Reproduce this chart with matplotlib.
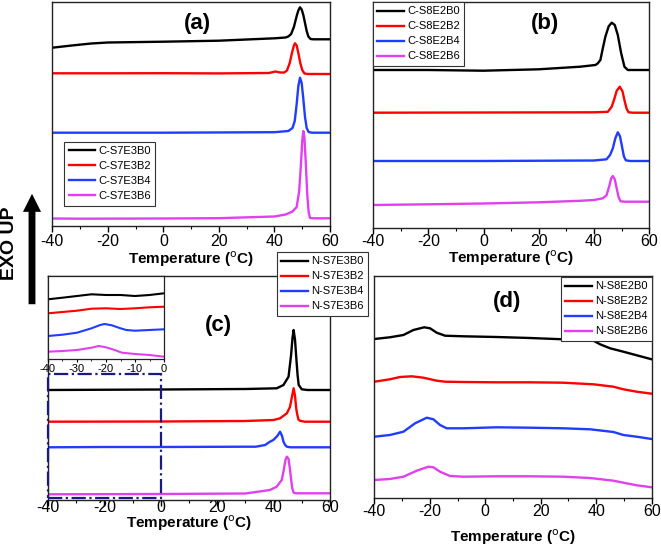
import matplotlib
matplotlib.use("Agg")
import matplotlib.pyplot as plt
from matplotlib.ticker import MultipleLocator
from matplotlib.patches import Rectangle, FancyArrowPatch

plt.rcParams['font.family'] = ['Liberation Sans', 'DejaVu Sans']
plt.rcParams['axes.unicode_minus'] = False

colors = ['black', '#ff0000', '#1f3cff', '#e040ee']

# (a) C-S7E3B* curves, heat flow in arbitrary units (offset stacked)
a_labels = ['C-S7E3B0', 'C-S7E3B2', 'C-S7E3B4', 'C-S7E3B6']
a_b0_t = [-40, -33, -26, -20, 0, 20, 40, 44, 45, 46, 47, 48, 48.6, 49.2, 49.8, 50.4, 51, 51.6, 52.2, 53, 54, 60]
a_b0_y = [178.3, 180.5, 182.5, 183.5, 184.3, 185.3, 187.7, 188.5, 189.5, 192, 199, 210, 215.5, 218.7, 216.5, 211, 203, 195, 189.5, 187, 186.7, 186.7]
a_b2_t = [-40, -20, 0, 20, 38, 40.4, 42, 43.5, 44.5, 45.5, 46.3, 47, 47.4, 48, 48.6, 49.3, 50, 50.8, 52, 60]
a_b2_y = [152.7, 152.7, 152.8, 152.6, 153, 154.5, 153.5, 153.5, 155.5, 163, 173, 180.5, 182.7, 180.5, 173, 163, 156, 152.5, 152, 152]
a_b4_t = [-40, 0, 40, 45, 46.5, 47.3, 48, 48.6, 49.2, 49.8, 50.4, 51, 51.6, 52.3, 53.5, 60]
a_b4_y = [93.3, 93.3, 93.8, 95, 98, 105, 122, 140, 148.3, 143, 127, 109, 98, 94, 93.3, 93.3]
a_b6_t = [-40, -30, 0, 20, 40, 44, 46.5, 48, 48.9, 49.5, 50, 50.4, 50.8, 51.3, 51.8, 52.3, 52.8, 54, 60]
a_b6_y = [7.5, 7.3, 7.5, 7.8, 9.5, 11.5, 14.5, 19, 35, 60, 85, 95, 88, 62, 32, 14, 8, 7.7, 7.7]

# (b) C-S8E2B*
b_labels = ['C-S8E2B0', 'C-S8E2B2', 'C-S8E2B4', 'C-S8E2B6']
b_b0_t = [-40, -20, 0, 20, 35, 40.5, 41.3, 42.3, 43.2, 44.1, 45.3, 46.4, 47.5, 48.6, 49.8, 51, 52.2, 60]
b_b0_y = [158.3, 158.3, 157.6, 159, 161.6, 163.3, 164.8, 168.3, 180.3, 191.6, 202, 205.6, 203.3, 193.3, 175.3, 161.6, 158.3, 158.3]
b_b2_t = [-40, 0, 40, 45, 46.4, 47.3, 48.2, 49.3, 50.3, 51.1, 51.8, 52.5, 54, 60]
b_b2_y = [115.6, 115.8, 116, 116.5, 121.6, 129, 137.5, 141.6, 137, 127, 119.5, 116, 115.6, 115.6]
b_b4_t = [-40, 0, 40, 44.5, 45.8, 46.8, 47.7, 48.6, 49.4, 50.1, 50.8, 51.5, 53, 60]
b_b4_y = [67.3, 67.3, 67.8, 69, 73.3, 80, 90, 96, 92, 82, 72, 68, 67.3, 67.3]
b_b6_t = [-40, -20, 0, 20, 35, 40, 43.2, 44.5, 45.5, 46.2, 46.8, 47.5, 48.2, 48.9, 49.6, 51, 60]
b_b6_y = [23.3, 24, 24.8, 26, 27.5, 28.3, 30, 33, 42, 50, 52.3, 49, 40, 31, 27, 26.6, 26.6]

# (c) N-S7E3B*
c_labels = ['N-S7E3B0', 'N-S7E3B2', 'N-S7E3B4', 'N-S7E3B6']
c_b0_t = [-40, 0, 30, 41.1, 43.5, 45.3, 46.2, 46.7, 47.1, 47.6, 48.1, 48.5, 48.9, 50, 52, 60]
c_b0_y = [110, 110.5, 111, 111.7, 115, 123.3, 145, 162, 170, 160, 140, 125, 115, 110.7, 110, 110]
c_b2_t = [-40, 0, 30, 40, 42.3, 44.7, 45.8, 46.5, 47.1, 47.6, 48, 48.3, 48.8, 49.3, 51, 60]
c_b2_y = [78.3, 78.5, 79, 80, 81.7, 86.7, 93, 103, 111.7, 104, 92, 86.7, 80.5, 79.3, 78.3, 78.3]
c_b4_t = [-40, -20, 0, 30, 33.7, 37, 38.7, 39.9, 41.3, 42.3, 43, 43.5, 44.1, 44.7, 46, 60]
c_b4_y = [52.7, 53, 53, 53.3, 53.3, 55, 58.3, 60, 64, 68.3, 64, 58.3, 55, 53.3, 52.7, 52.7]
c_b6_t = [-40, 0, 30, 38.7, 41.1, 42.9, 43.6, 44.2, 44.7, 45.3, 45.8, 46.1, 46.6, 47.1, 48, 60]
c_b6_y = [5.7, 6, 6.5, 10, 13.3, 20, 30, 40, 43.3, 41, 31, 23.3, 12, 7.3, 6.7, 6.7]

# (c) inset, -40 to 0 magnified
ins_b0_t = [-40, -35, -30, -25, -20, -15, -10, -5, 0]
ins_b0_y = [60, 61.6, 63.3, 65, 64.3, 64.3, 63.3, 64.3, 66]
ins_b2_t = [-40, -35, -30, -25, -20, -15, -10, -5, 0]
ins_b2_y = [46, 47.3, 48.6, 50.6, 51, 50.3, 51, 52, 52.6]
ins_b4_t = [-40, -35, -30, -25, -22, -20.5, -18, -15, -13, -10, -5, 0]
ins_b4_y = [23.3, 24.6, 26.6, 31, 34.3, 35.3, 34, 31, 29.3, 28.6, 29.3, 30]
ins_b6_t = [-40, -35, -30, -25, -22.5, -20, -17, -14.5, -10, -5, 0]
ins_b6_y = [7.6, 8.3, 9.3, 11.6, 13.3, 12, 9.3, 6.6, 5.3, 4.3, 2.6]

# (d) N-S8E2B*
d_labels = ['N-S8E2B0', 'N-S8E2B2', 'N-S8E2B4', 'N-S8E2B6']
d_b0_t = [-40, -34.4, -29.5, -25.9, -22, -19.9, -17.5, -14.5, -7.9, 4.1, 16.1, 28.1, 33, 37.2, 39, 41.4, 45, 49.8, 54.6, 60]
d_b0_y = [159.3, 161, 163.3, 168.3, 171, 170, 165.6, 162.6, 162, 161.3, 160.3, 159, 158.3, 159, 157.6, 154, 150, 146.6, 143, 139]
d_b2_t = [-40, -34.4, -30.7, -26.5, -22.3, -17.5, -14.5, -7.9, 4.1, 16.1, 28.1, 39, 46.2, 49.8, 54.6, 60]
d_b2_y = [116.6, 119, 121.3, 122, 120.6, 117.6, 116.6, 116.3, 116, 116, 115.6, 114, 111.6, 109, 106.6, 104.6]
d_b4_t = [-40, -34.4, -29.5, -25.3, -21.1, -18.7, -16.3, -13.9, -7.9, 4.1, 16.1, 28.1, 37.8, 46.2, 49.8, 54.6, 60]
d_b4_y = [61.6, 63.3, 66.6, 75, 80.6, 79, 73.3, 70, 70, 71, 70.6, 70, 69, 66.3, 63.3, 61.6, 59.3]
d_b6_t = [-40, -34.4, -29.5, -24.7, -20.5, -18.7, -16.3, -12.7, -7.9, 4.1, 16.1, 28.1, 37.8, 46.2, 49.8, 54.6, 60]
d_b6_y = [18.3, 19.3, 21.6, 27.6, 31.6, 31, 26.6, 22.3, 21.6, 22, 22, 21.6, 20.3, 17.6, 15.6, 13, 11]

W, H = 661, 548
fig = plt.figure(figsize=(W / 100, H / 100), dpi=100)


def px_axes(left, top, right, bottom):
    return fig.add_axes([left / W, 1 - bottom / H, (right - left) / W, (bottom - top) / H])


def style_axis(ax, ylim, tickpad, labelpad):
    ax.set_xlim(-40, 60)
    ax.set_ylim(*ylim)
    ax.xaxis.set_major_locator(MultipleLocator(20))
    ax.xaxis.set_minor_locator(MultipleLocator(10))
    ax.set_yticks([])
    ax.tick_params(axis='x', which='major', direction='out', length=4, width=1, labelsize=11.5, pad=tickpad)
    ax.tick_params(axis='x', which='minor', direction='out', length=2.5, width=0.8)
    for s in ax.spines.values():
        s.set_linewidth(1.0)
        s.set_color('#222222')
    ax.set_xlabel('Temperature ($^{\\rm o}$C)', fontsize=11, fontweight='bold', labelpad=labelpad)


def add_legend(ax, labels, anchor, loc):
    leg = ax.legend(labels, loc=loc, bbox_to_anchor=(anchor[0] / W, 1 - anchor[1] / H),
                    bbox_transform=fig.transFigure, fontsize=8, frameon=True, fancybox=False,
                    framealpha=1, edgecolor='#333333', borderpad=0.4, labelspacing=0.45,
                    handlelength=2.4, handletextpad=0.25, borderaxespad=0)
    leg.get_frame().set_linewidth(0.8)
    leg.set_zorder(10)


lw = 1.7

# panel (a)
ax_a = px_axes(52.3, 2, 330, 226)
for t, y, c in zip([a_b0_t, a_b2_t, a_b4_t, a_b6_t], [a_b0_y, a_b2_y, a_b4_y, a_b6_y], colors):
    ax_a.plot(t, y, color=c, lw=lw)
style_axis(ax_a, (0, 224), 2, 0)
add_legend(ax_a, a_labels, (64.3, 141.7), 'upper left')
ax_a.text(197 / W, 1 - 23 / H, '(a)', transform=fig.transFigure, ha='center', va='center',
          fontsize=16, fontweight='bold')

# panel (b)
ax_b = px_axes(373, 2, 649.3, 228.3)
for t, y, c in zip([b_b0_t, b_b2_t, b_b4_t, b_b6_t], [b_b0_y, b_b2_y, b_b4_y, b_b6_y], colors):
    ax_b.plot(t, y, color=c, lw=lw)
style_axis(ax_b, (0, 226.3), 0, 0)
add_legend(ax_b, b_labels, (373, 2), 'upper left')
ax_b.text(545 / W, 1 - 23 / H, '(b)', transform=fig.transFigure, ha='center', va='center',
          fontsize=16, fontweight='bold')

# panel (c)
ax_c = px_axes(48, 276, 330, 500)
for t, y, c in zip([c_b0_t, c_b2_t, c_b4_t, c_b6_t], [c_b0_y, c_b2_y, c_b4_y, c_b6_y], colors):
    ax_c.plot(t, y, color=c, lw=lw)
style_axis(ax_c, (0, 224), -4, -1)
ax_c.add_patch(Rectangle((-40, 1.7), 40, 124.3, fill=False, edgecolor='#1a1a80',
                         linestyle='-.', lw=1.6, zorder=5, clip_on=False))
add_legend(ax_c, c_labels, (277, 252), 'upper left')
ax_c.text(218 / W, 1 - 325 / H, '(c)', transform=fig.transFigure, ha='center', va='center',
          fontsize=16, fontweight='bold')

# inset of (c)
ax_in = px_axes(48, 276, 164, 359.3)
for t, y, c in zip([ins_b0_t, ins_b2_t, ins_b4_t, ins_b6_t], [ins_b0_y, ins_b2_y, ins_b4_y, ins_b6_y], colors):
    ax_in.plot(t, y, color=c, lw=1.5)
ax_in.set_xlim(-40, 0)
ax_in.set_ylim(0, 83.3)
ax_in.xaxis.set_major_locator(MultipleLocator(10))
ax_in.xaxis.set_minor_locator(MultipleLocator(5))
ax_in.set_yticks([])
ax_in.tick_params(axis='x', which='major', direction='out', length=2.5, labelsize=8, pad=1)
ax_in.tick_params(axis='x', which='minor', direction='out', length=1.5)
for s in ax_in.spines.values():
    s.set_linewidth(0.9)
    s.set_color('#222222')

# panel (d)
ax_d = px_axes(374.3, 276, 651.7, 498.3)
for t, y, c in zip([d_b0_t, d_b2_t, d_b4_t, d_b6_t], [d_b0_y, d_b2_y, d_b4_y, d_b6_y], colors):
    ax_d.plot(t, y, color=c, lw=lw)
style_axis(ax_d, (0, 222.3), 0, 6)
add_legend(ax_d, d_labels, (652, 277), 'upper right')
ax_d.text(507 / W, 1 - 302 / H, '(d)', transform=fig.transFigure, ha='center', va='center',
          fontsize=16, fontweight='bold')

# EXO UP arrow
fig.text(9.5 / W, 1 - 243 / H, 'EXO UP', rotation=90, ha='center', va='center',
         fontsize=14, fontweight='bold')
arrow = FancyArrowPatch((32 / W, 1 - 307 / H), (32 / W, 1 - 191 / H), transform=fig.transFigure,
                        arrowstyle='simple,head_length=1.0,head_width=1.0,tail_width=0.38',
                        mutation_scale=13, color='black', lw=0)
fig.patches.append(arrow)

fig.savefig('out.png', dpi=100)
